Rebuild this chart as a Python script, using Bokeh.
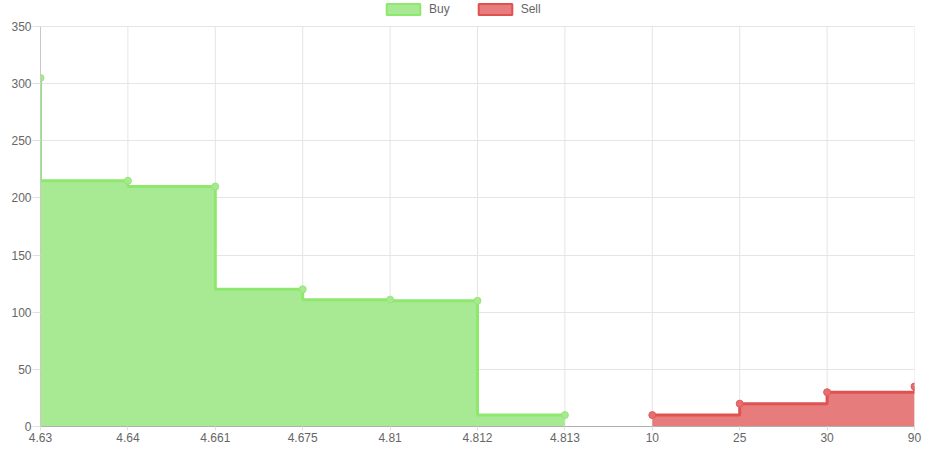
from bokeh.plotting import figure
from bokeh.models import FixedTicker, Range1d, Legend, LegendItem, ColumnDataSource
from bokeh.embed import file_html
from bokeh.resources import INLINE

categories = ["4.63", "4.64", "4.661", "4.675", "4.81", "4.812", "4.813", "10", "25", "30", "90"]
buy_values = [305, 215, 210, 120, 111, 110, 10]
sell_values = [10, 20, 30, 35]
y_ticks = [0, 50, 100, 150, 200, 250, 300, 350]

buy_x = list(range(len(buy_values)))
sell_x = list(range(len(buy_values), len(buy_values) + len(sell_values)))
cat_x = list(range(len(categories)))

FONT = "Liberation Sans"
TXT = "#666666"
GRID = "#e5e5e5"

Y_MAX = y_ticks[-1]
FRAME_H = 426          # frame height in px (room above y max holds the legend)
PLOT_H = 400           # px between 0 and Y_MAX
y_top = Y_MAX * FRAME_H / PLOT_H

p = figure(width=930, height=453, output_backend="svg", toolbar_location=None,
           x_range=Range1d(0, len(categories) - 1), y_range=Range1d(0, y_top),
           min_border_left=40, min_border_right=16, min_border_top=0, min_border_bottom=27)
p.outline_line_color = None
p.background_fill_color = "white"
p.xgrid.grid_line_color = None
p.ygrid.grid_line_color = GRID

# vertical grid lines, stopping at the top tick
p.segment(x0=cat_x, y0=[0] * len(cat_x), x1=cat_x, y1=[Y_MAX] * len(cat_x),
          line_color=GRID, line_width=1)

buy_src = ColumnDataSource(dict(x=buy_x, y=buy_values))
sell_src = ColumnDataSource(dict(x=sell_x, y=sell_values))

p.varea_step(x="x", y1=0, y2="y", step_mode="before", source=buy_src,
             fill_color="#a8ea94", fill_alpha=1.0)
p.step(x="x", y="y", mode="before", source=buy_src, line_color="#8ee86e", line_width=3)
p.scatter(x="x", y="y", source=buy_src, size=7, fill_color="#a6e98f", line_color="#95e678")

p.varea_step(x="x", y1=0, y2="y", step_mode="after", source=sell_src,
             fill_color="#e67c7c", fill_alpha=1.0)
p.step(x="x", y="y", mode="after", source=sell_src, line_color="#e05252", line_width=3)
p.scatter(x="x", y="y", source=sell_src, size=7, fill_color="#e56f6f", line_color="#e05a5a")

# legend swatches (not drawn in the plot: NaN coordinates)
nan = float("nan")
lb = p.quad(left=[nan], right=[nan], top=[nan], bottom=[nan],
            fill_color="#a8ea94", line_color="#8ee86e", line_width=2)
ls = p.quad(left=[nan], right=[nan], top=[nan], bottom=[nan],
            fill_color="#e67c7c", line_color="#e05252", line_width=2)
legend = Legend(items=[LegendItem(label="Buy", renderers=[lb]), LegendItem(label="Sell", renderers=[ls])],
                orientation="horizontal", location=(342, 410),
                glyph_width=42, glyph_height=14, label_height=14, label_standoff=5,
                spacing=24, padding=0, margin=0, border_line_color=None,
                background_fill_alpha=0, label_text_font=FONT, label_text_font_size="12px",
                label_text_color=TXT)
p.add_layout(legend, "center")

# axes
p.xaxis.ticker = FixedTicker(ticks=cat_x)
p.xaxis.major_label_overrides = {i: c for i, c in enumerate(categories)}
p.yaxis.ticker = FixedTicker(ticks=y_ticks)
p.yaxis.bounds = (0, Y_MAX)
for ax in (p.xaxis, p.yaxis):
    ax.major_label_text_font = FONT
    ax.major_label_text_font_size = "12px"
    ax.major_label_text_color = TXT
    ax.minor_tick_line_color = None
    ax.major_tick_in = 0
    ax.major_tick_line_color = "#e0e0e0"
p.xaxis.major_tick_out = 4
p.xaxis.major_label_standoff = 2
p.xaxis.axis_line_color = "#b0b0b0"
p.yaxis.major_tick_out = 8
p.yaxis.major_label_standoff = 1
p.yaxis.axis_line_color = "#c8c8c8"

open("out.html", "w").write(file_html(p, INLINE))
